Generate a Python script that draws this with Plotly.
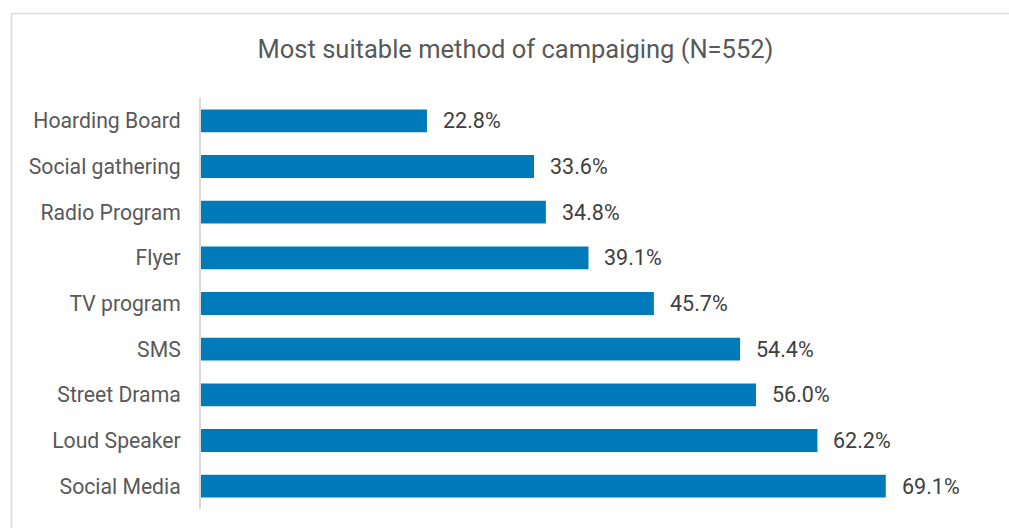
import plotly.graph_objects as go

# Survey responses, listed top to bottom as shown
methods = ["Hoarding Board", "Social gathering", "Radio Program", "Flyer",
           "TV program", "SMS", "Street Drama", "Loud Speaker", "Social Media"]
shares = [22.8, 33.6, 34.8, 39.1, 45.7, 54.4, 56.0, 62.2, 69.1]
value_labels = [f"{v:.1f}%" for v in shares]

W, H = 1009, 528
M_L, M_R, M_T, M_B = 201, 15, 98, 19
plot_w = W - M_L - M_R
plot_h = H - M_T - M_B

FONT = "Roboto, 'Open Sans', sans-serif"
BAR = "#007ab8"

fig = go.Figure(
    go.Bar(
        y=methods,
        x=shares,
        orientation="h",
        marker=dict(color=BAR, line=dict(width=0)),
        hoverinfo="skip",
    )
)

# value labels just past each bar end
for m, v, t in zip(methods, shares, value_labels):
    fig.add_annotation(
        x=v, y=m, xref="x", yref="y",
        text=t, showarrow=False,
        xanchor="left", yanchor="middle",
        xshift=14,
        font=dict(family=FONT, size=21.5, color="#404040"),
    )

# light frame around the chart
def px_to_paper_x(px):
    return (px - M_L) / plot_w

def py_to_paper_y(py):
    return (H - M_B - py) / plot_h

fig.add_shape(
    type="rect", xref="paper", yref="paper",
    x0=px_to_paper_x(11.5), x1=px_to_paper_x(W + 20),
    y0=py_to_paper_y(H + 20), y1=py_to_paper_y(13.5),
    line=dict(color="#d9d9d9", width=1.5),
    fillcolor="rgba(0,0,0,0)", layer="below",
)

fig.update_layout(
    width=W, height=H,
    margin=dict(l=M_L, r=M_R, t=M_T, b=M_B, pad=0),
    paper_bgcolor="white", plot_bgcolor="white",
    bargap=0.5,
    showlegend=False,
    title=dict(
        text="Most suitable method of campaiging (N=552)",
        x=515.5 / W, xanchor="center", xref="container",
        y=1 - 49 / H, yanchor="middle", yref="container",
        font=dict(family=FONT, size=25.5, color="#595959"),
    ),
    xaxis=dict(
        range=[0, plot_w / 9.91],
        visible=False, showgrid=False, zeroline=False, fixedrange=True,
    ),
    yaxis=dict(
        autorange="reversed",
        showgrid=False, zeroline=False,
        showline=True, linecolor="#d9d9d9", linewidth=2,
        ticks="", ticklabelstandoff=14,
        tickfont=dict(family=FONT, size=21.2, color="#595959"),
        fixedrange=True,
    ),
)

fig.write_html("out.html", config={"displayModeBar": False})
